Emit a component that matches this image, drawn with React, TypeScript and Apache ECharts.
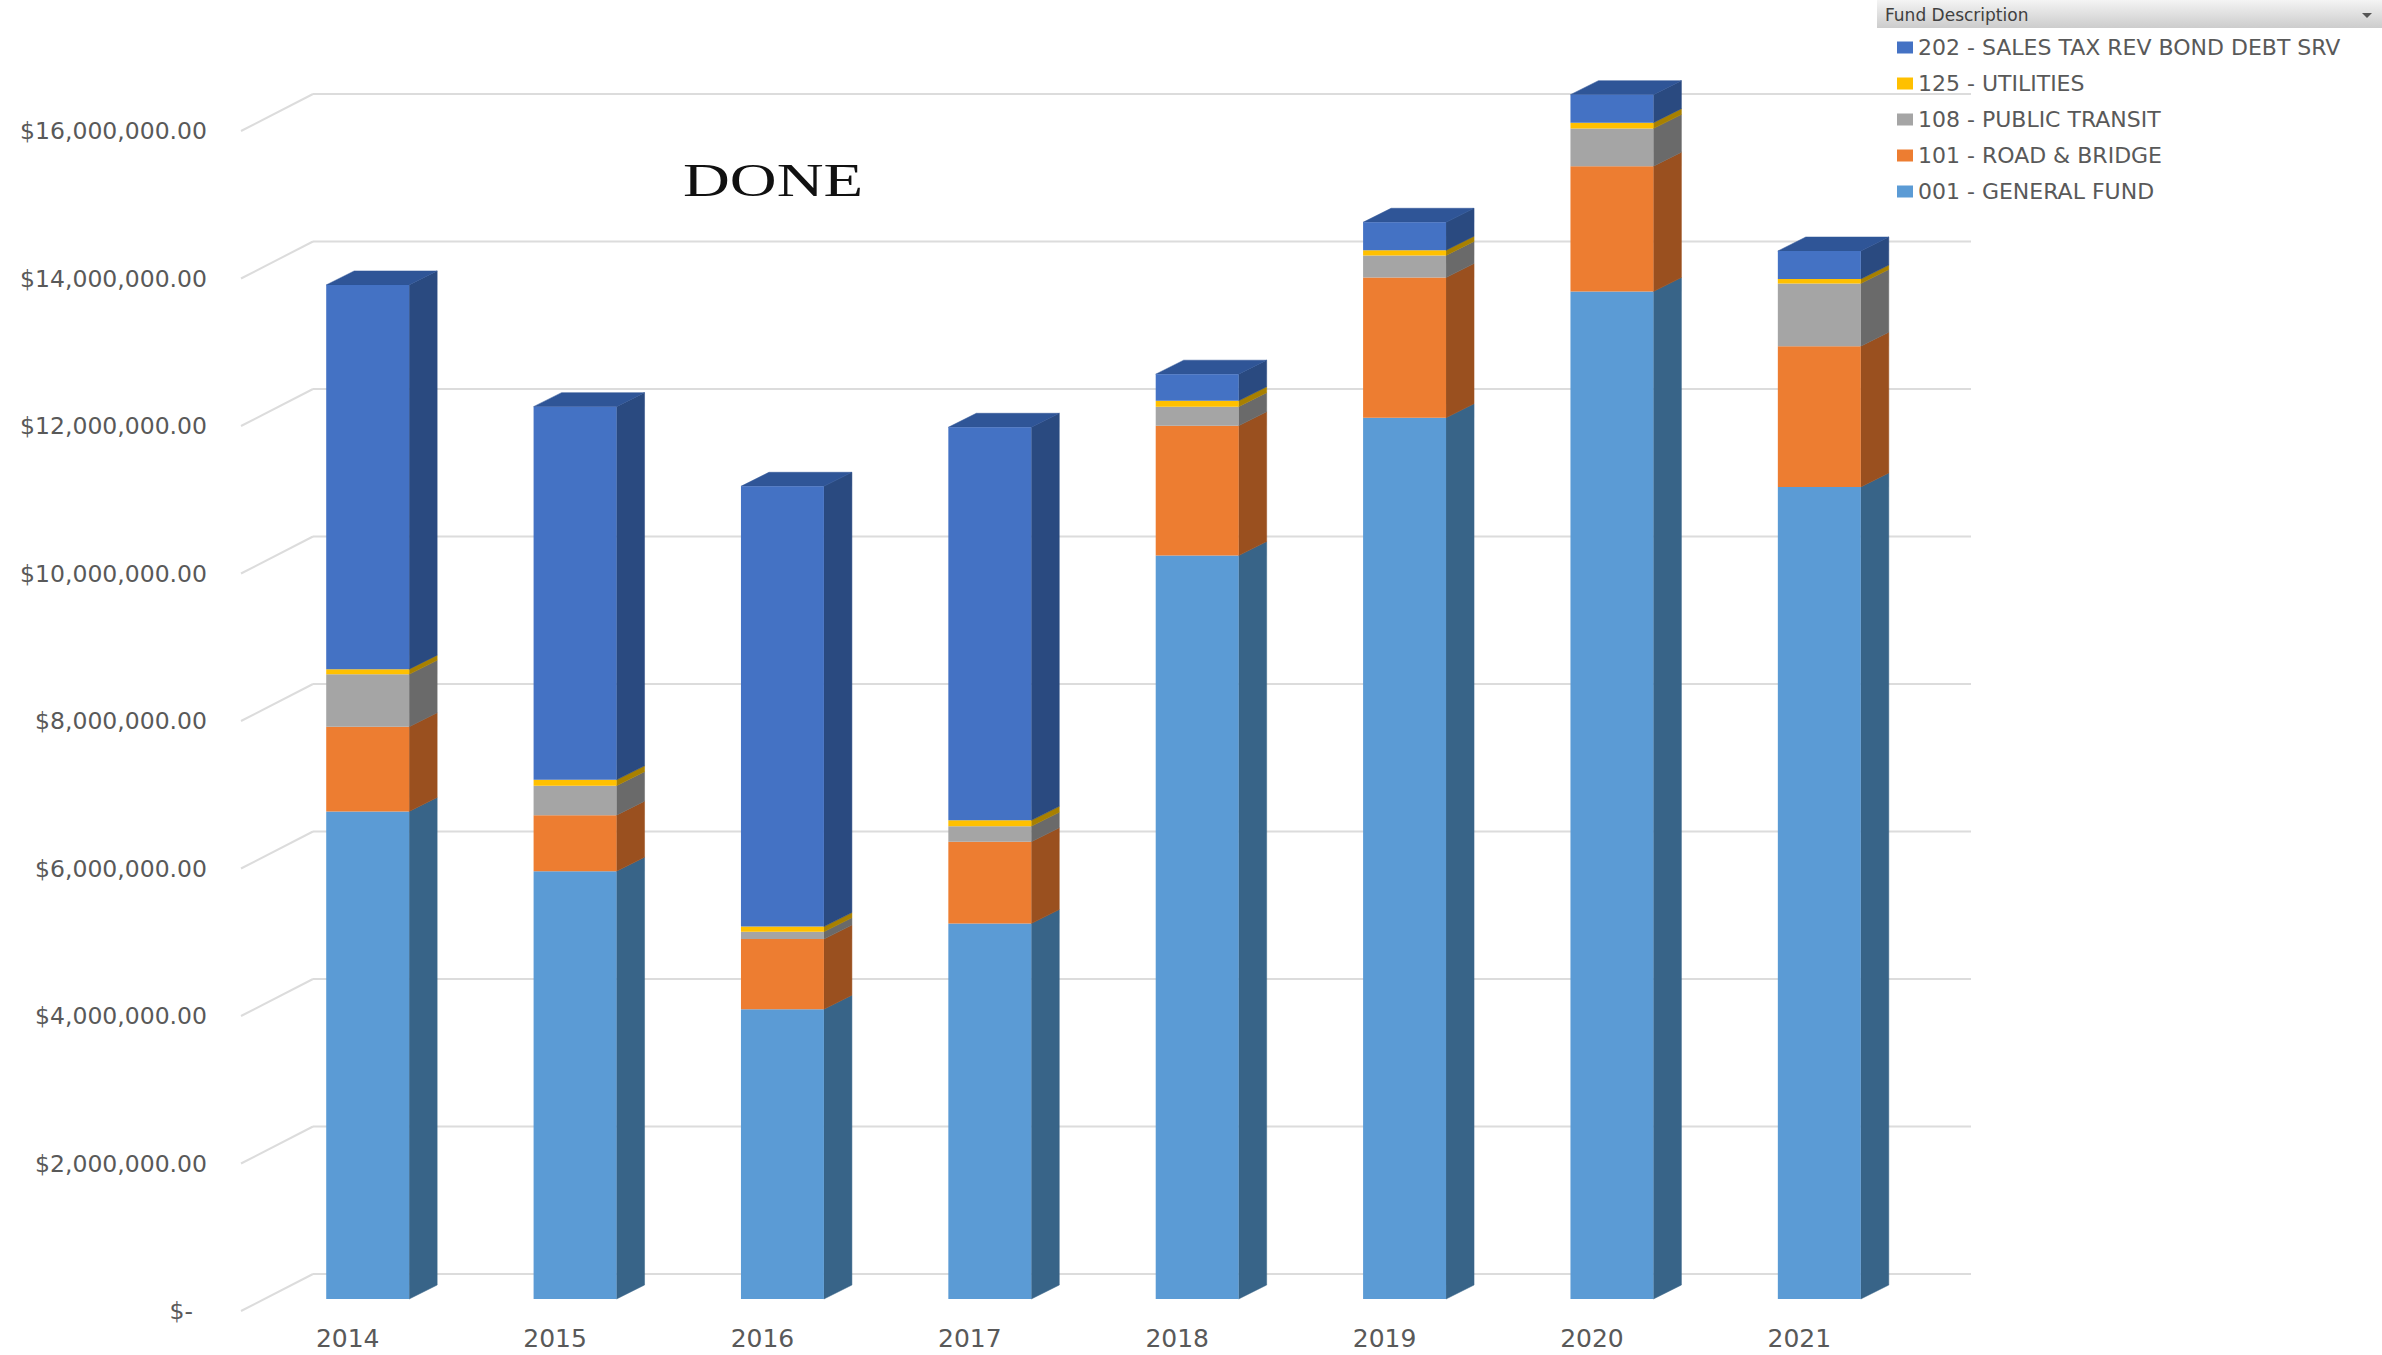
import React, { useEffect, useRef } from "react";
import * as echarts from "echarts";

const categories = ["2014", "2015", "2016", "2017", "2018", "2019", "2020", "2021"];
const generalFund = [6610000, 5800000, 3930000, 5090000, 10080000, 11950000, 13660000, 11010000];
const roadBridge = [1150000, 760000, 950000, 1110000, 1760000, 1900000, 1700000, 1910000];
const publicTransit = [710000, 400000, 100000, 210000, 260000, 300000, 510000, 850000];
const utilities = [70000, 80000, 70000, 80000, 80000, 70000, 80000, 60000];
const salesTax = [5210000, 5060000, 5970000, 5330000, 360000, 380000, 380000, 380000];
const yTicks = [0, 2000000, 4000000, 6000000, 8000000, 10000000, 12000000, 14000000, 16000000];

const seriesNames = [
  "001 - GENERAL FUND",
  "101 - ROAD & BRIDGE",
  "108 - PUBLIC TRANSIT",
  "125 - UTILITIES",
  "202 - SALES TAX REV BOND DEBT SRV",
];
const seriesValues = [generalFund, roadBridge, publicTransit, utilities, salesTax];
const frontColors = ["#5B9BD5", "#ED7D31", "#A5A5A5", "#FFC000", "#4472C4"];
const sideColors = ["#386488", "#9A501F", "#6A6A6A", "#A88000", "#2A4A80"];
const topColor = "#2F5597";

const DX = 28;
const DY = 14;

export default function App() {
  const ref = useRef<HTMLDivElement>(null);

  useEffect(() => {
    document.body.style.margin = "0";
    const chart = echarts.init(ref.current!, null, { renderer: "svg" });

    const faceData: number[][] = [];
    for (let i = 0; i < categories.length; i++) {
      let base = 0;
      for (let s = 0; s < seriesValues.length; s++) {
        const top = base + seriesValues[s][i];
        faceData.push([i, base, top, s]);
        base = top;
      }
    }

    const barSeries = seriesNames.map((name, s) => ({
      name,
      type: "bar",
      stack: "total",
      barWidth: "40%",
      clip: false,
      data: seriesValues[s],
      itemStyle: { color: frontColors[s] },
      z: 3,
    }));

    const fmt = (v: number) =>
      v === 0
        ? "{z|$-}"
        : "$" + v.toLocaleString("en-US", { minimumFractionDigits: 2, maximumFractionDigits: 2 });

    const option: any = {
      animation: false,
      backgroundColor: "#ffffff",
      grid: { left: 264, right: 459, top: 119, bottom: 56, containLabel: false },
      legend: {
        orient: "vertical",
        left: 1892,
        top: 30,
        itemWidth: 16,
        itemHeight: 12,
        itemGap: 11,
        icon: "rect",
        selectedMode: false,
        data: [...seriesNames].reverse(),
        textStyle: {
          fontFamily: "DejaVu Sans",
          fontSize: 22,
          lineHeight: 25,
          color: "#595959",
        },
      },
      xAxis: {
        type: "category",
        data: categories,
        axisLine: { show: false },
        axisTick: { show: false },
        axisLabel: {
          margin: 27,
          padding: [0, 40, 0, 0],
          fontFamily: "DejaVu Sans",
          fontSize: 25,
          color: "#595959",
        },
      },
      yAxis: {
        type: "value",
        min: 0,
        max: 16000000,
        interval: 2000000,
        axisLine: { show: false },
        axisTick: { show: false },
        splitLine: { show: false },
        axisLabel: {
          margin: 57,
          padding: [24, 0, 0, 0],
          fontFamily: "DejaVu Sans",
          fontSize: 23.5,
          color: "#595959",
          formatter: fmt,
          rich: {
            z: {
              fontFamily: "DejaVu Sans",
              fontSize: 23.5,
              color: "#595959",
              padding: [0, 14, 0, 0],
            },
          },
        },
      },
      series: [
        {
          name: "gridlines",
          type: "custom",
          silent: true,
          z: 0,
          data: yTicks.map((v) => [0, v]),
          encode: { x: 0, y: 1 },
          renderItem: (params: any, api: any) => {
            const cs = params.coordSys;
            const y = api.coord([0, api.value(1)])[1];
            const style = { stroke: "#dcdcdc", lineWidth: 2 };
            return {
              type: "group",
              children: [
                {
                  type: "line",
                  shape: { x1: cs.x - 23, y1: y + 12, x2: cs.x + 49, y2: y - 25 },
                  style,
                },
                {
                  type: "line",
                  shape: { x1: cs.x + 49, y1: y - 25, x2: cs.x + cs.width + 48, y2: y - 25 },
                  style,
                },
              ],
            };
          },
        },
        ...barSeries,
        {
          name: "faces",
          type: "custom",
          silent: true,
          z: 2,
          clip: false,
          data: faceData,
          encode: { x: 0, y: [1, 2] },
          renderItem: (params: any, api: any) => {
            const i = api.value(0);
            const b = api.value(1);
            const t = api.value(2);
            const s = api.value(3);
            const p1 = api.coord([i, t]);
            const p0 = api.coord([i, b]);
            const w = api.size([1, 0])[0] * 0.4;
            const xl = p1[0] - w / 2;
            const xr = p1[0] + w / 2;
            const y1 = p1[1];
            const y0 = p0[1];
            const children: any[] = [
              {
                type: "polygon",
                shape: {
                  points: [
                    [xr, y1],
                    [xr + DX, y1 - DY],
                    [xr + DX, y0 - DY],
                    [xr, y0],
                  ],
                },
                style: { fill: sideColors[s], stroke: sideColors[s], lineWidth: 0.5 },
              },
            ];
            if (s === seriesValues.length - 1) {
              children.push({
                type: "polygon",
                shape: {
                  points: [
                    [xl, y1],
                    [xl + DX, y1 - DY],
                    [xr + DX, y1 - DY],
                    [xr, y1],
                  ],
                },
                style: { fill: topColor, stroke: topColor, lineWidth: 0.5 },
              });
            }
            return { type: "group", children };
          },
        },
      ],
      graphic: [
        {
          type: "rect",
          left: 1877,
          top: 0,
          shape: { width: 505, height: 28 },
          style: {
            fill: new echarts.graphic.LinearGradient(0, 0, 0, 1, [
              { offset: 0, color: "#f4f4f4" },
              { offset: 1, color: "#cccccc" },
            ]),
          },
          z: 10,
        },
        {
          type: "text",
          x: 1885,
          y: 15,
          style: {
            text: "Fund Description",
            fontFamily: "DejaVu Sans",
            fontSize: 17,
            fill: "#404040",
            verticalAlign: "middle",
            align: "left",
          },
          z: 11,
        },
        {
          type: "polygon",
          shape: {
            points: [
              [2362, 13],
              [2372, 13],
              [2367, 18],
            ],
          },
          style: { fill: "#555555" },
          z: 11,
        },
        {
          type: "text",
          x: 683,
          y: 180,
          scaleX: 1.38,
          style: {
            text: "DONE",
            fontFamily: "Liberation Serif",
            fontSize: 47,
            fill: "#111111",
            verticalAlign: "middle",
            align: "left",
          },
          z: 11,
        },
      ],
    };

    chart.setOption(option);
    return () => chart.dispose();
  }, []);

  return <div ref={ref} style={{ width: 2382, height: 1355 }} />;
}
